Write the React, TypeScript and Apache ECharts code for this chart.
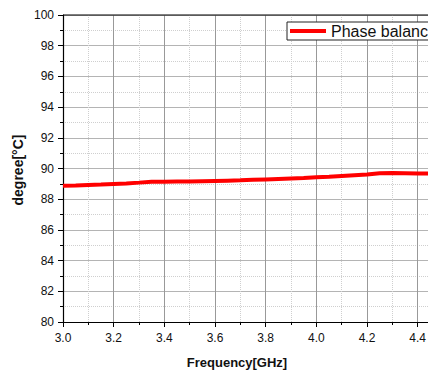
import React, { useEffect, useRef } from "react";
import * as echarts from "echarts";

const freqGHz = [3.0, 3.05, 3.1, 3.15, 3.2, 3.25, 3.3, 3.35, 3.4, 3.45, 3.5, 3.55, 3.6, 3.65, 3.7, 3.75, 3.8, 3.85, 3.9, 3.95, 4.0, 4.05, 4.1, 4.15, 4.2, 4.25, 4.3, 4.35, 4.4, 4.45, 4.5];
const phaseBalance = [88.88, 88.89, 88.92, 88.95, 88.99, 89.03, 89.08, 89.14, 89.13, 89.15, 89.15, 89.17, 89.19, 89.21, 89.23, 89.26, 89.29, 89.32, 89.35, 89.38, 89.43, 89.46, 89.51, 89.56, 89.61, 89.69, 89.7, 89.69, 89.68, 89.67, 89.66];
const seriesName = "Phase balance";
const xTitle = "Frequency[GHz]";
const yTitle = "degree[°C]";

export default function App() {
  const ref = useRef<HTMLDivElement>(null);
  useEffect(() => {
    if (!ref.current) return;
    const chart = echarts.init(ref.current, null, { renderer: "svg" });
    const font = "Liberation Sans, Arial, sans-serif";
    chart.setOption({
      animation: false,
      backgroundColor: "#ffffff",
      grid: { left: 63, top: 15, bottom: 55, right: 17, containLabel: false },
      legend: {
        data: [{ name: seriesName, icon: "rect" }],
        left: 287,
        top: 22,
        orient: "horizontal",
        backgroundColor: "#ffffff",
        borderColor: "#222",
        borderWidth: 1,
        borderRadius: 0,
        padding: [1, 4, 1, 3],
        itemWidth: 36,
        itemHeight: 4,
        itemGap: 5,
        itemStyle: { color: "#ff0000" },
        textStyle: { fontFamily: font, fontSize: 16, color: "#111" },
      },
      xAxis: {
        type: "value",
        min: 3.0,
        max: 4.5,
        interval: 0.2,
        axisLine: { show: true, onZero: false, lineStyle: { color: "#000", width: 1.2 } },
        axisTick: { show: true, inside: false, length: 5, lineStyle: { color: "#000" } },
        minorTick: { show: true, splitNumber: 2, length: 3, lineStyle: { color: "#000" } },
        splitLine: { show: true, lineStyle: { color: "#999", width: 1 } },
        minorSplitLine: { show: true, lineStyle: { color: "#cfcfcf", type: "dotted", width: 1 } },
        axisLabel: {
          margin: 10,
          fontFamily: font,
          fontSize: 12,
          color: "#111",
          showMaxLabel: false,
          formatter: (v: number) => v.toFixed(1),
        },
      },
      yAxis: [
        {
          type: "value",
          min: 80,
          max: 100,
          interval: 2,
          axisLine: { show: true, lineStyle: { color: "#000", width: 1.2 } },
          axisTick: { show: true, inside: false, length: 5, lineStyle: { color: "#000" } },
          minorTick: { show: true, splitNumber: 2, length: 3, lineStyle: { color: "#000" } },
          splitLine: { show: true, lineStyle: { color: "#b4b4b4", width: 1 } },
          minorSplitLine: { show: true, lineStyle: { color: "#cfcfcf", type: "dotted", width: 1 } },
          axisLabel: { margin: 9, fontFamily: font, fontSize: 12, color: "#111" },
        },
      ],
      graphic: [
        {
          type: "line",
          shape: { x1: 63, y1: 15, x2: 460, y2: 15 },
          style: { stroke: "#000", lineWidth: 1.2 },
          z: 10,
        },
        {
          type: "text",
          x: 237,
          y: 362,
          style: {
            text: xTitle,
            fontFamily: font,
            fontSize: 13,
            fontWeight: "bold",
            fill: "#111",
            align: "center",
            verticalAlign: "middle",
          },
        },
        {
          type: "text",
          x: 18,
          y: 170,
          rotation: Math.PI / 2,
          style: {
            text: yTitle,
            fontFamily: font,
            fontSize: 14,
            fontWeight: "bold",
            fill: "#111",
            align: "center",
            verticalAlign: "middle",
          },
        },
      ],
      series: [
        {
          name: seriesName,
          type: "line",
          data: freqGHz.map((f, i) => [f, phaseBalance[i]]),
          showSymbol: false,
          symbol: "none",
          lineStyle: { color: "#ff0000", width: 4 },
          itemStyle: { color: "#ff0000" },
          z: 5,
        },
      ],
    });
    return () => chart.dispose();
  }, []);
  return (
    <div style={{ position: "absolute", left: 0, top: 0, width: 428, height: 377, overflow: "hidden" }}>
      <div ref={ref} style={{ width: 460, height: 377 }} />
    </div>
  );
}
